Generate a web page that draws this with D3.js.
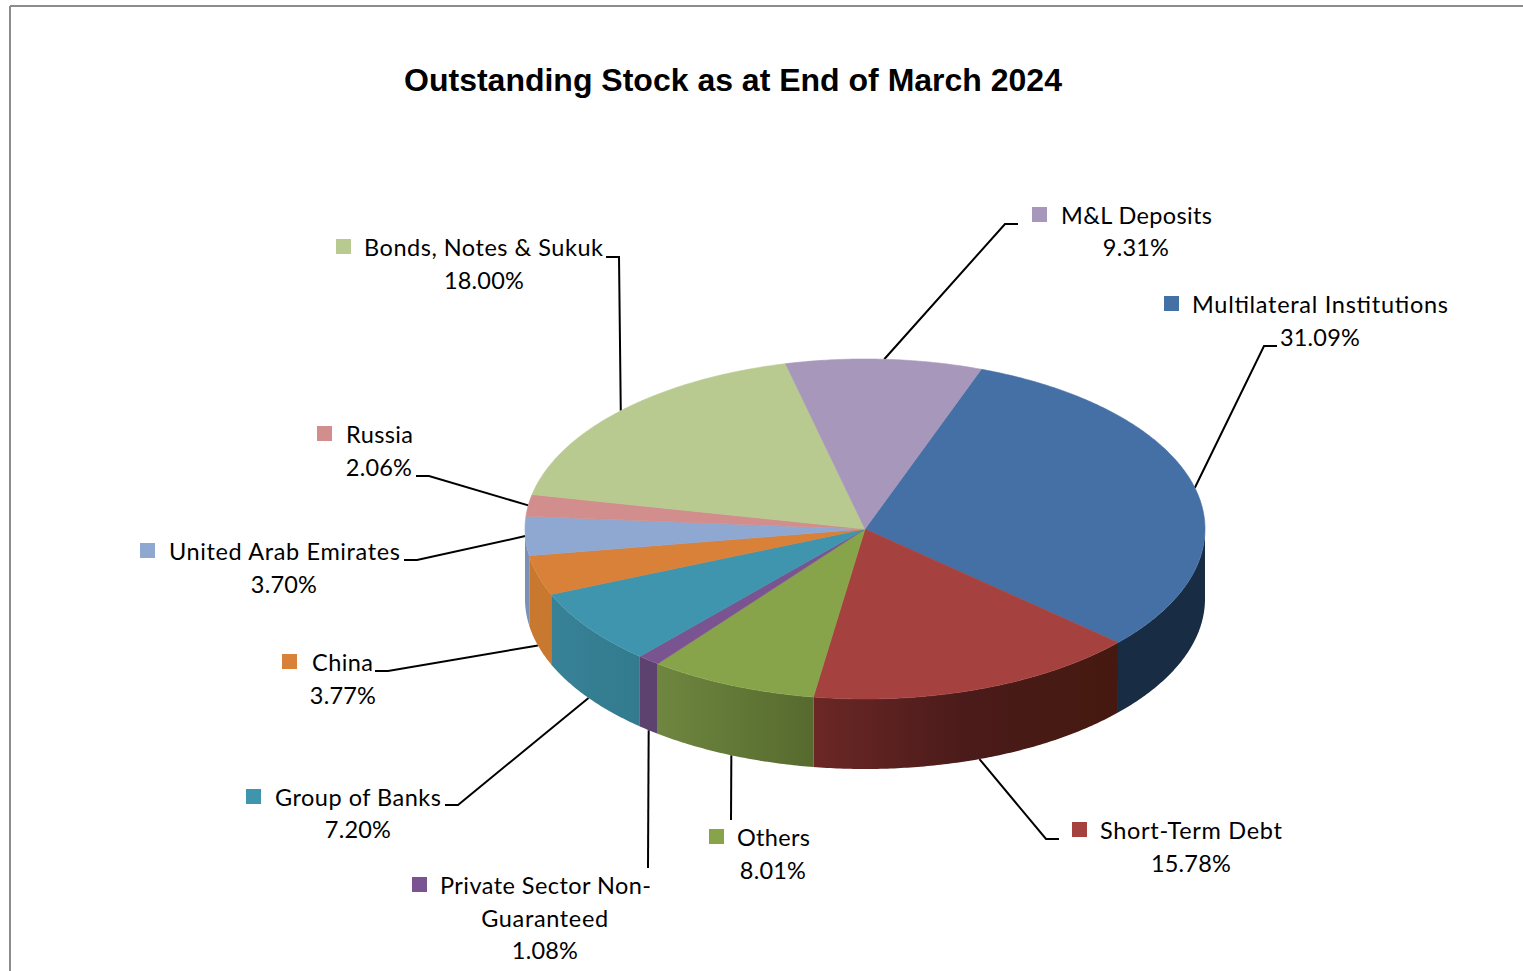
<!DOCTYPE html>
<html><head><meta charset="utf-8">
<style>html,body{margin:0;padding:0;background:#fff;overflow:hidden}svg{display:block}</style>
<script src="https://cdnjs.cloudflare.com/ajax/libs/d3/7.8.5/d3.min.js"></script>
</head><body><svg id="c" width="1523" height="971"></svg>
<script>
const titleText = "Outstanding Stock as at End of March 2024";
const categories = ["Multilateral Institutions","Short-Term Debt","Others","Private Sector Non-Guaranteed","Group of Banks","China","United Arab Emirates","Russia","Bonds, Notes & Sukuk","M&L Deposits"];
const shares = [31.09,15.78,8.01,1.08,7.20,3.77,3.70,2.06,18.00,9.31];
const topColors = ["#4470a6","#a5423f","#88a44a","#7a5490","#4095ae","#d98039","#8fa8d1","#d18e8c","#b8ca90","#a797bb"];
const sideLeft = ["#182c44","#6b2725","#6f8640","#5d4270","#388297","#c9782f","#7a90b5","#b07876","#9aab78","#8d7f9e"];
const sideMid = ["#182c44","#4a1b1a","#627836","#5d4270","#357e92","#c9782f","#7a90b5","#b07876","#9aab78","#8d7f9e"];
const sideRight = ["#182c44","#45190f","#566a2e","#5d4270","#337a8e","#c9782f","#7a90b5","#b07876","#9aab78","#8d7f9e"];
// label placement: marker/text start, text width, baselines, centred rows, leader elbow points
const labelLayout = [
 {mx:1164,tx:1192,tw:256,lines:["Multilateral Institutions"],by:313,cx:1320,rows:[[ "31.09%",346]],lead:[[1264,346],[1277,346]],drop:0},
 {mx:1072,tx:1100,tw:182,lines:["Short-Term Debt"],by:839,cx:1191,rows:[["15.78%",872]],lead:[[1046,839],[1059,839]],drop:1},
 {mx:709,tx:737,tw:73,lines:["Others"],by:846,cx:773,rows:[["8.01%",879]],lead:[[731,820]],drop:1},
 {mx:412,tx:440,tw:211,lines:["Private Sector Non-"],by:894,cx:545,rows:[["Guaranteed",927],["1.08%",959]],lead:[[648,868]],drop:1},
 {mx:246,tx:275,tw:166,lines:["Group of Banks"],by:806,cx:358,rows:[["7.20%",838]],lead:[[458,805],[445,805]],drop:1},
 {mx:282,tx:312,tw:61,lines:["China"],by:671,cx:343,rows:[["3.77%",704]],lead:[[388,671],[375,671]],drop:1},
 {mx:140,tx:169,tw:231,lines:["United Arab Emirates"],by:560,cx:284,rows:[["3.70%",593]],lead:[[417,560],[404,560]],drop:0},
 {mx:317,tx:346,tw:67,lines:["Russia"],by:443,cx:379,rows:[["2.06%",476]],lead:[[429,476],[416,476]],drop:0},
 {mx:336,tx:364,tw:239,lines:["Bonds, Notes & Sukuk"],by:256,cx:484,rows:[["18.00%",289]],lead:[[619,257],[606,257]],drop:0},
 {mx:1032,tx:1061,tw:151,lines:["M&L Deposits"],by:224,cx:1136,rows:[["9.31%",256]],lead:[[1005,224],[1018,224]],drop:0}
];

const svg = d3.select("#c");
const LABEL_FONT = "Lato, 'Open Sans', sans-serif", LABEL_SIZE = 23.5;
const depth = 70;
const X = d3.scaleLinear().domain([-1,1]).range([525,1205]);
const Y = d3.scaleLinear().domain([-1,1]).range([359,699]);
const start = 20*Math.PI/180;
const pie = d3.pie().sort(null).startAngle(start).endAngle(start+2*Math.PI);
const arcs = pie(shares);
const px = a => X(Math.sin(a)), py = a => Y(-Math.cos(a));
const samples = (a0,a1) => { const n = Math.max(2,Math.ceil((a1-a0)/0.01)); return d3.range(n+1).map(i=>a0+(a1-a0)*i/n); };

// frame
svg.append("line").attr("x1",10).attr("x2",10).attr("y1",6).attr("y2",971).attr("stroke","#8c8c8c").attr("stroke-width",2);
svg.append("line").attr("x1",10).attr("x2",1523).attr("y1",6).attr("y2",6).attr("stroke","#8c8c8c").attr("stroke-width",2);

// title
svg.append("text").attr("x",733).attr("y",91).attr("text-anchor","middle")
  .attr("font-family","'Liberation Sans',Arial,sans-serif").attr("font-weight","bold").attr("font-size",32).attr("fill","#000").text(titleText);

// leader lines (drawn beneath the pie)
const leader = d3.line();
arcs.forEach((d,i)=>{
  const m=(d.startAngle+d.endAngle)/2, L=labelLayout[i];
  svg.append("path").attr("d",leader([[px(m),py(m)+(L.drop?depth:0)],...L.lead]))
    .attr("fill","none").attr("stroke","#000").attr("stroke-width",2);
});

// sides
const defs = svg.append("defs");
const area = d3.area().x(a=>px(a)).y0(a=>py(a)).y1(a=>py(a)+depth);
arcs.forEach((d,i)=>{
  const a0=Math.max(d.startAngle,Math.PI/2), a1=Math.min(d.endAngle,1.5*Math.PI);
  if(a1<=a0) return;
  const g=defs.append("linearGradient").attr("id","s"+i).attr("gradientUnits","userSpaceOnUse")
    .attr("x1",Math.min(px(a0),px(a1))).attr("x2",Math.max(px(a0),px(a1))).attr("y1",0).attr("y2",0);
  g.append("stop").attr("offset",0).attr("stop-color",sideLeft[i]);
  g.append("stop").attr("offset",0.5).attr("stop-color",sideMid[i]);
  g.append("stop").attr("offset",1).attr("stop-color",sideRight[i]);
  svg.append("path").attr("d",area(samples(a0,a1))).attr("fill",`url(#s${i})`);
});

// top faces
const face = d3.line().x(p=>p[0]).y(p=>p[1]);
arcs.forEach((d,i)=>{
  const pts=[[X(0),Y(0)],...samples(d.startAngle,d.endAngle).map(a=>[px(a),py(a)])];
  svg.append("path").attr("d",face(pts)+"Z").attr("fill",topColors[i]).attr("stroke",topColors[i]).attr("stroke-width",0.6);
});

// labels
labelLayout.forEach((L,i)=>{
  svg.append("rect").attr("x",L.mx).attr("y",L.by-17).attr("width",15).attr("height",15).attr("fill",topColors[i]);
  const t=(x,y,s,anchor)=>svg.append("text").attr("x",x).attr("y",y).attr("text-anchor",anchor)
    .attr("font-family",LABEL_FONT).attr("font-size",LABEL_SIZE).attr("fill","#000");
  L.lines.forEach(s=>t(L.tx,L.by,s,"start").attr("textLength",L.tw).attr("lengthAdjust","spacing").text(s));
  L.rows.forEach(r=>t(L.cx,r[1],r[0],"middle").attr("letter-spacing",r[0].endsWith("%")?0.2:0.65).text(r[0]));
});
</script></body></html>
